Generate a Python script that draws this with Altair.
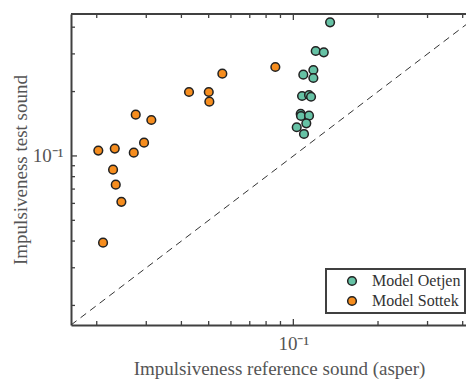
import altair as alt
import pandas as pd

# ---- data (log-log axes) ----
oetjen_x = [0.1351, 0.1201, 0.1283, 0.1178, 0.1085, 0.1178, 0.1074, 0.1137,
            0.1156, 0.1062, 0.1065, 0.1137, 0.1112, 0.1028, 0.1091]
oetjen_y = [0.4214, 0.3095, 0.3052, 0.2523, 0.2399, 0.2314, 0.1907, 0.1928,
            0.1892, 0.1572, 0.1538, 0.1543, 0.1421, 0.1362, 0.1267]
sottek_x = [0.02026, 0.02318, 0.02286, 0.02337, 0.02447, 0.02106, 0.02708, 0.02946,
            0.02752, 0.03127, 0.04257, 0.05004, 0.05028, 0.05592, 0.0863]
sottek_y = [0.1059, 0.1082, 0.0863, 0.0734, 0.0610, 0.0393, 0.1036, 0.1154,
            0.1560, 0.1473, 0.1991, 0.1991, 0.1794, 0.2424, 0.2605]
series_names = ["Model Oetjen", "Model Sottek"]
series_colors = ["#66c2a5", "#f68d1e"]

axis_min = 0.0162
x_max = 0.411
y_max = 0.461
minor_ticks = [0.02, 0.03, 0.04, 0.05, 0.06, 0.07, 0.08, 0.09, 0.2, 0.3, 0.4]
major_ticks = [0.1]
tick_label = "10⁻¹"
x_title = "Impulsiveness reference sound (asper)"
y_title = "Impulsiveness test sound"

W, H = 395, 311
LINE = "#404040"
TEXT = "#555555"
FONT = "Liberation Serif"

pts = pd.DataFrame({
    "x": oetjen_x + sottek_x,
    "y": oetjen_y + sottek_y,
    "series": [series_names[0]] * len(oetjen_x) + [series_names[1]] * len(sottek_x),
    "order": [0] * len(oetjen_x) + [1] * len(sottek_x),
})
diag = pd.DataFrame({"x": [axis_min, y_max], "y": [axis_min, y_max]})
minor_df = pd.DataFrame({"x": minor_ticks, "y": minor_ticks})
major_df = pd.DataFrame({"x": major_ticks, "y": major_ticks})

xscale = alt.Scale(type="log", domain=[axis_min, x_max], nice=False)
yscale = alt.Scale(type="log", domain=[axis_min, y_max], nice=False)

xaxis = alt.Axis(
    values=major_ticks, labelExpr=f"'{tick_label}'", title=x_title,
    ticks=False, grid=False, domainColor=LINE, domainWidth=2,
    labelFontSize=19, labelPadding=9, labelFlush=False,
    titleX=208, titleY=49, titleBaseline="alphabetic", titleAlign="center")
yaxis = alt.Axis(
    values=major_ticks, labelExpr=f"'{tick_label}'", title=y_title,
    ticks=False, grid=False, domainColor=LINE, domainWidth=2,
    labelFontSize=19, labelPadding=8, labelFlush=False,
    titleX=-51, titleY=H / 2, titleBaseline="middle", titleAlign="center",
    titleAngle=-90)

X = alt.X("x:Q", scale=xscale, axis=xaxis)
Y = alt.Y("y:Q", scale=yscale, axis=yaxis)

diag_layer = alt.Chart(diag).mark_line(
    clip=True, color="#333333", strokeWidth=1, strokeDash=[7, 5]
).encode(x=X, y=Y)


def xticks(df, length):
    base = alt.Chart(df).mark_rule(color=LINE, strokeWidth=1.3)
    bottom = base.encode(x=X, y=alt.value(H), y2=alt.value(H - length))
    top = base.encode(x=X, y=alt.value(0), y2=alt.value(length))
    return bottom + top


def yticks(df, length):
    return alt.Chart(df).mark_rule(color=LINE, strokeWidth=1.3).encode(
        y=Y, x=alt.value(0), x2=alt.value(length))


top_frame = alt.Chart(diag).mark_rule(color=LINE, strokeWidth=2).encode(
    x=alt.value(0), x2=alt.value(W), y=alt.value(0))

points = alt.Chart(pts).mark_circle(
    size=75, opacity=1, stroke="#222222", strokeWidth=1.5
).encode(
    x=X, y=Y,
    fill=alt.Color("series:N", scale=alt.Scale(domain=series_names, range=series_colors),
                   legend=alt.Legend(title=None, orient="none", legendX=255, legendY=255,
                                     strokeColor=LINE, fillColor="white", padding=4,
                                     symbolType="circle", symbolSize=75,
                                     symbolStrokeColor="#222222", symbolStrokeWidth=1.5,
                                     symbolOffset=14, labelOffset=12,
                                     labelFont=FONT, labelFontSize=16, labelColor="#333333",
                                     rowPadding=4)),
    order=alt.Order("order:Q"),
)

chart = alt.layer(
    diag_layer,
    xticks(minor_df, 4), xticks(major_df, 6),
    yticks(minor_df, 4), yticks(major_df, 6),
    top_frame,
    points,
).properties(
    width=W, height=H,
    autosize=alt.AutoSizeParams(type="none"),
    padding={"left": 63, "top": 6, "right": 0, "bottom": 55},
).configure_view(stroke=None).configure_axis(
    labelFont=FONT, titleFont=FONT, labelColor=TEXT, titleColor=TEXT,
    titleFontSize=19, titleFontWeight="normal",
).configure_legend(strokeWidth=2, cornerRadius=0)

chart.save("out.html", embed_options={"renderer": "svg", "actions": False})
